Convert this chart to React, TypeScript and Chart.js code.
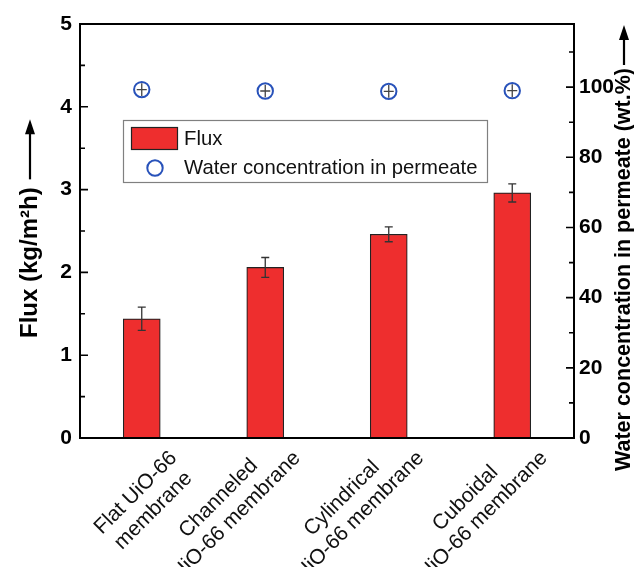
import React, { useEffect, useRef } from 'react';
import { Chart, registerables } from 'chart.js';

Chart.register(...registerables);

const categories: string[][] = [
  ['Flat UiO-66', 'membrane'],
  ['Channeled', 'UiO-66 membrane'],
  ['Cylindrical', 'UiO-66 membrane'],
  ['Cuboidal', 'UiO-66 membrane'],
];
const fluxValues = [1.44, 2.06, 2.46, 2.96];
const fluxErrors = [0.14, 0.12, 0.09, 0.11];
const waterValues = [99.3, 98.9, 98.8, 99.0];
const waterErrors = [1.8, 1.8, 1.8, 1.8];
const fluxTicks = [0, 1, 2, 3, 4, 5];
const fluxMinorTicks = [0.5, 1.5, 2.5, 3.5, 4.5];
const waterTicks = [0, 20, 40, 60, 80, 100];
const waterMinorTicks = [10, 30, 50, 70, 90, 110];
const seriesLabels = ['Flux', 'Water concentration in permeate'];
const axisTitles = ['Flux (kg/m\u00B2h)', 'Water concentration in permeate (wt.%)'];

const FONT = "'Liberation Sans', Arial, Helvetica, sans-serif";
const RED = 'rgb(238,46,46)';
const BLUE = 'rgb(40,82,186)';

function drawTitle(ctx: CanvasRenderingContext2D, text: string, x: number, yStart: number, size: number, gap: number, arrowLen: number) {
  ctx.save();
  ctx.translate(x, yStart);
  ctx.rotate(-Math.PI / 2);
  ctx.font = `bold ${size}px ${FONT}`;
  ctx.fillStyle = '#000';
  ctx.textAlign = 'left';
  ctx.textBaseline = 'middle';
  ctx.fillText(text, 0, 0);
  const w = ctx.measureText(text).width;
  const tail = w + gap;
  const tip = tail + arrowLen;
  ctx.strokeStyle = '#000';
  ctx.lineWidth = 2.2;
  ctx.beginPath();
  ctx.moveTo(tail, 0);
  ctx.lineTo(tip - 10, 0);
  ctx.stroke();
  ctx.beginPath();
  ctx.moveTo(tip, 0);
  ctx.lineTo(tip - 15, -5);
  ctx.lineTo(tip - 15, 5);
  ctx.closePath();
  ctx.fill();
  ctx.restore();
}

const decorPlugin = {
  id: 'decor',
  afterDatasetsDraw(chart: any) {
    const ctx: CanvasRenderingContext2D = chart.ctx;
    const { left, right, top, bottom } = chart.chartArea;
    const sy = chart.scales.y;
    const sy1 = chart.scales.y1;
    const sx = chart.scales.x;

    // error bars on the flux bars
    const barMeta = chart.getDatasetMeta(0);
    ctx.save();
    ctx.strokeStyle = '#333';
    ctx.lineWidth = 1.3;
    barMeta.data.forEach((el: any, i: number) => {
      const x = el.x;
      const yHi = sy.getPixelForValue(fluxValues[i] + fluxErrors[i]);
      const yLo = sy.getPixelForValue(fluxValues[i] - fluxErrors[i]);
      ctx.beginPath();
      ctx.moveTo(x, yHi);
      ctx.lineTo(x, yLo);
      ctx.moveTo(x - 4, yHi);
      ctx.lineTo(x + 4, yHi);
      ctx.moveTo(x - 4, yLo);
      ctx.lineTo(x + 4, yLo);
      ctx.stroke();
    });
    // error crosses in water circles
    const ptMeta = chart.getDatasetMeta(1);
    ctx.strokeStyle = '#444';
    ctx.lineWidth = 1.3;
    ptMeta.data.forEach((el: any, i: number) => {
      const x = el.x;
      const yc = el.y;
      const yHi = sy1.getPixelForValue(waterValues[i] + waterErrors[i]);
      const yLo = sy1.getPixelForValue(waterValues[i] - waterErrors[i]);
      ctx.beginPath();
      ctx.moveTo(x, yHi);
      ctx.lineTo(x, yLo);
      ctx.moveTo(x - 5, yc);
      ctx.lineTo(x + 5, yc);
      ctx.stroke();
    });
    ctx.restore();

    // frame
    ctx.save();
    ctx.strokeStyle = '#000';
    ctx.lineWidth = 2;
    ctx.strokeRect(left, top, right - left, bottom - top);
    // inward ticks
    ctx.lineWidth = 1.6;
    ctx.beginPath();
    fluxTicks.forEach((v) => {
      const y = sy.getPixelForValue(v);
      ctx.moveTo(left, y);
      ctx.lineTo(left + 8, y);
    });
    fluxMinorTicks.forEach((v) => {
      const y = sy.getPixelForValue(v);
      ctx.moveTo(left, y);
      ctx.lineTo(left + 5, y);
    });
    waterTicks.forEach((v) => {
      const y = sy1.getPixelForValue(v);
      ctx.moveTo(right, y);
      ctx.lineTo(right - 8, y);
    });
    waterMinorTicks.forEach((v) => {
      const y = sy1.getPixelForValue(v);
      ctx.moveTo(right, y);
      ctx.lineTo(right - 5, y);
    });
    ctx.stroke();
    ctx.restore();

    // x category labels (rotated, centered lines)
    ctx.save();
    ctx.font = `21px ${FONT}`;
    ctx.fillStyle = '#111';
    ctx.textAlign = 'center';
    ctx.textBaseline = 'middle';
    const LH = 25;
    const ang = Math.PI / 4;
    categories.forEach((lines, i) => {
      const tx = sx.getPixelForValue(i);
      const widths = lines.map((l) => ctx.measureText(l).width);
      const lmax = Math.max(...widths);
      const k = widths.indexOf(lmax);
      ctx.save();
      ctx.translate(tx + 32, bottom + 17);
      ctx.rotate(-ang);
      lines.forEach((l, j) => {
        ctx.fillText(l, -lmax / 2, (j - k) * LH);
      });
      ctx.restore();
    });
    ctx.restore();

    // axis titles
    drawTitle(ctx, axisTitles[0], 30, 338, 24, 8, 60);
    drawTitle(ctx, axisTitles[1], 624, 471, 21.5, 3, 40);

    // legend
    ctx.save();
    const ds = chart.data.datasets;
    ctx.strokeStyle = '#808080';
    ctx.lineWidth = 1.2;
    ctx.fillStyle = '#fff';
    ctx.fillRect(123.5, 120.5, 364, 62);
    ctx.strokeRect(123.5, 120.5, 364, 62);
    ctx.fillStyle = ds[0].backgroundColor;
    ctx.fillRect(131, 127, 47, 23);
    ctx.strokeStyle = '#222';
    ctx.lineWidth = 1.2;
    ctx.strokeRect(131.5, 127.5, 46, 22);
    ctx.beginPath();
    ctx.arc(155, 168, 7.7, 0, Math.PI * 2);
    ctx.strokeStyle = ds[1].pointBorderColor;
    ctx.lineWidth = 2;
    ctx.stroke();
    ctx.fillStyle = '#111';
    ctx.font = `20.3px ${FONT}`;
    ctx.textAlign = 'left';
    ctx.textBaseline = 'middle';
    ctx.fillText(ds[0].label, 184, 139);
    ctx.fillText(ds[1].label, 184, 168);
    ctx.restore();
  },
};

export default function App() {
  const ref = useRef<HTMLCanvasElement | null>(null);
  useEffect(() => {
    if (!ref.current) return;
    const chart = new Chart(ref.current, {
      type: 'bar',
      data: {
        labels: categories.map((c) => c.join(' ')),
        datasets: [
          {
            type: 'bar',
            label: seriesLabels[0],
            data: fluxValues,
            backgroundColor: RED,
            borderColor: '#222',
            borderWidth: 1.2,
            barThickness: 37,
            yAxisID: 'y',
            order: 2,
          } as any,
          {
            type: 'line',
            label: seriesLabels[1],
            data: waterValues,
            yAxisID: 'y1',
            showLine: false,
            pointStyle: 'circle',
            pointRadius: 7.7,
            pointBorderWidth: 2,
            pointBorderColor: BLUE,
            pointBackgroundColor: 'rgba(0,0,0,0)',
            order: 1,
          } as any,
        ],
      },
      options: {
        animation: false,
        responsive: false,
        maintainAspectRatio: false,
        layout: { padding: { top: 24, bottom: 129, left: 0, right: 0 } },
        plugins: { legend: { display: false }, tooltip: { enabled: false } },
        scales: {
          x: { display: false, offset: true },
          y: {
            position: 'left',
            min: 0,
            max: 5,
            afterBuildTicks: (s: any) => {
              s.ticks = fluxTicks.map((v) => ({ value: v }));
            },
            afterFit: (s: any) => {
              s.width = 80;
            },
            grid: { display: false, drawTicks: false },
            border: { display: false },
            ticks: {
              padding: 8,
              color: '#000',
              font: { family: FONT, weight: 'bold', size: 21 },
            },
          },
          y1: {
            position: 'right',
            min: 0,
            max: 118,
            afterBuildTicks: (s: any) => {
              s.ticks = waterTicks.map((v) => ({ value: v }));
            },
            afterFit: (s: any) => {
              s.width = 60;
            },
            grid: { display: false, drawTicks: false },
            border: { display: false },
            ticks: {
              padding: 5,
              color: '#000',
              font: { family: FONT, weight: 'bold', size: 21 },
            },
          },
        },
      } as any,
      plugins: [decorPlugin],
    });
    return () => chart.destroy();
  }, []);
  return (
    <div style={{ position: 'absolute', left: 0, top: 0, width: 634, height: 567, background: '#fff' }}>
      <canvas ref={ref} width={634} height={567} style={{ width: 634, height: 567, display: 'block' }} />
    </div>
  );
}
